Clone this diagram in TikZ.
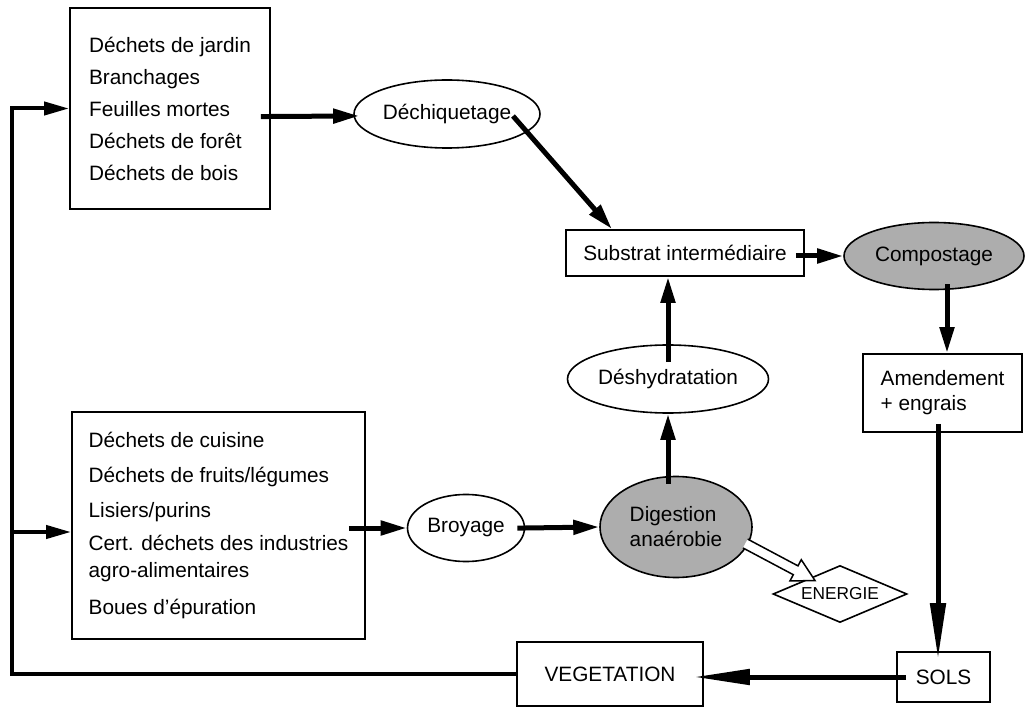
\documentclass[tikz,border=0pt]{standalone}
\usepackage{fontspec}
\setmainfont{Liberation Sans}
\usetikzlibrary{arrows.meta, positioning, shapes.geometric, calc}
\definecolor{cgris}{HTML}{ADADAD}
\tikzset{
  every picture/.style={x=1pt, y=-1pt, font=\fontsize{20.8}{25}\selectfont},
  boite/.style={draw, line width=1.8pt, align=left, inner sep=0pt},
  ovale/.style={ellipse, draw, line width=1.6pt, align=center, inner sep=0pt},
  ovale gris/.style={ovale, fill=cgris},
  fleche/.style={line width=5pt, -{Triangle[length=26pt, width=14pt]}},
  fleche longue/.style={line width=5pt, -{Triangle[length=56pt, width=15pt]}},
  retour/.style={line width=4pt, -{Triangle[length=25pt, width=13pt]}},
}
\begin{document}
\begin{tikzpicture}
  \useasboundingbox (0,0) rectangle (1034,711);
  % entrees
  \node[boite, minimum width=200pt, minimum height=201pt, font=\fontsize{20.8}{32}\selectfont] (jardin) at (170,108.5)
    {Déchets de jardin\\Branchages\\Feuilles mortes\\Déchets de forêt\\Déchets de bois};
  \node[boite, minimum width=293pt, minimum height=227pt, font=\fontsize{20.8}{27}\selectfont] (cuisine) at (218.5,525.5)
    {Déchets de cuisine\\[8pt]Déchets de fruits/légumes\\[8pt]Lisiers/purins\\[6pt]Cert. déchets des industries\\agro-alimentaires\\[10pt]Boues d'épuration};
  % traitements
  \node[ovale, minimum width=186pt, minimum height=68pt] (dechi) at (447,114) {Déchiquetage};
  \node[boite, minimum width=238pt, minimum height=46pt, align=center] (substrat) at (685,253) {Substrat intermédiaire};
  \node[ovale gris, minimum width=180pt, minimum height=67pt] (compost) at (934,256) {Compostage};
  \node[boite, minimum width=159pt, minimum height=78pt] (amend) at (942.5,393) {Amendement\\+ engrais};
  \node[ovale, minimum width=201pt, minimum height=68pt] (deshy) at (668,379) {Déshydratation};
  \node[ovale gris, minimum width=152pt, minimum height=101pt, align=left] (digest) at (676,527) {Digestion\\anaérobie};
  \node[ovale, minimum width=117pt, minimum height=67pt] (broyage) at (466,528) {Broyage};
  \node[diamond, draw, line width=1.6pt, shape aspect=2.35, minimum width=134pt, minimum height=57pt, inner sep=0pt,
        font=\fontsize{17.3}{20}\selectfont] (energie) at (840,594) {ENERGIE};
  % sortie
  \node[boite, minimum width=186pt, minimum height=64pt, align=center] (vege) at (610,674) {VEGETATION};
  \node[boite, minimum width=93pt, minimum height=50pt, align=center] (sols) at (943.5,677) {SOLS};
  \coordinate (coinbas) at (12,674);
  \coordinate (coinhaut) at (12,108.5);
  \coordinate (embranch) at (12,532);
  % fleches
  \draw[fleche, shorten <=-10pt, shorten >=-6pt] ([yshift=-8pt]jardin.east) -- ([yshift=-2pt]dechi.west);
  \draw[fleche] ($(dechi.center)+(66,2)$) -- ($(substrat.north)+(-73,0)$);
  \draw[fleche, shorten <=-9pt] ([yshift=-3pt]substrat.east) -- (compost.west);
  \draw[fleche, shorten <=-6pt] ([xshift=13pt]compost.south) -- ([xshift=13pt]compost.south |- amend.north);
  \draw[fleche longue, shorten <=-9pt, shorten >=-8pt] ([xshift=-4.5pt]amend.south) -- ([xshift=-4.5pt]amend.south |- sols.north);
  \draw[fleche longue, shorten <=-10pt, shorten >=-10pt] (sols.west) -- (sols.west -| vege.east);
  \draw[fleche, shorten <=-18pt] (deshy.north) -- (deshy.north |- substrat.south);
  \draw[fleche, shorten <=-8pt] (deshy.south |- digest.north) -- (deshy.south);
  \draw[fleche, shorten <=-8pt] (broyage.east) -- (digest.west);
  \draw[fleche, shorten <=-17pt] (cuisine.east |- broyage.west) -- (broyage.west);
  \draw[retour] (vege.west) -- (coinbas) -- (coinhaut) -- (jardin.west);
  \draw[retour] (embranch) -- (cuisine.west |- embranch);
  % energie
  \begin{scope}[shift={(digest.-14)}, rotate=-28]
    \fill[white] (-3,-5) -- (54,-5) -- (54,-12) -- (76,0) -- (54,12) -- (54,5) -- (-3,5) -- cycle;
    \draw[line width=1.5pt, line join=miter] (-3,-5) -- (54,-5) -- (54,-12) -- (76,0) -- (54,12) -- (54,5) -- (-3,5);
  \end{scope}
\end{tikzpicture}
\end{document}
